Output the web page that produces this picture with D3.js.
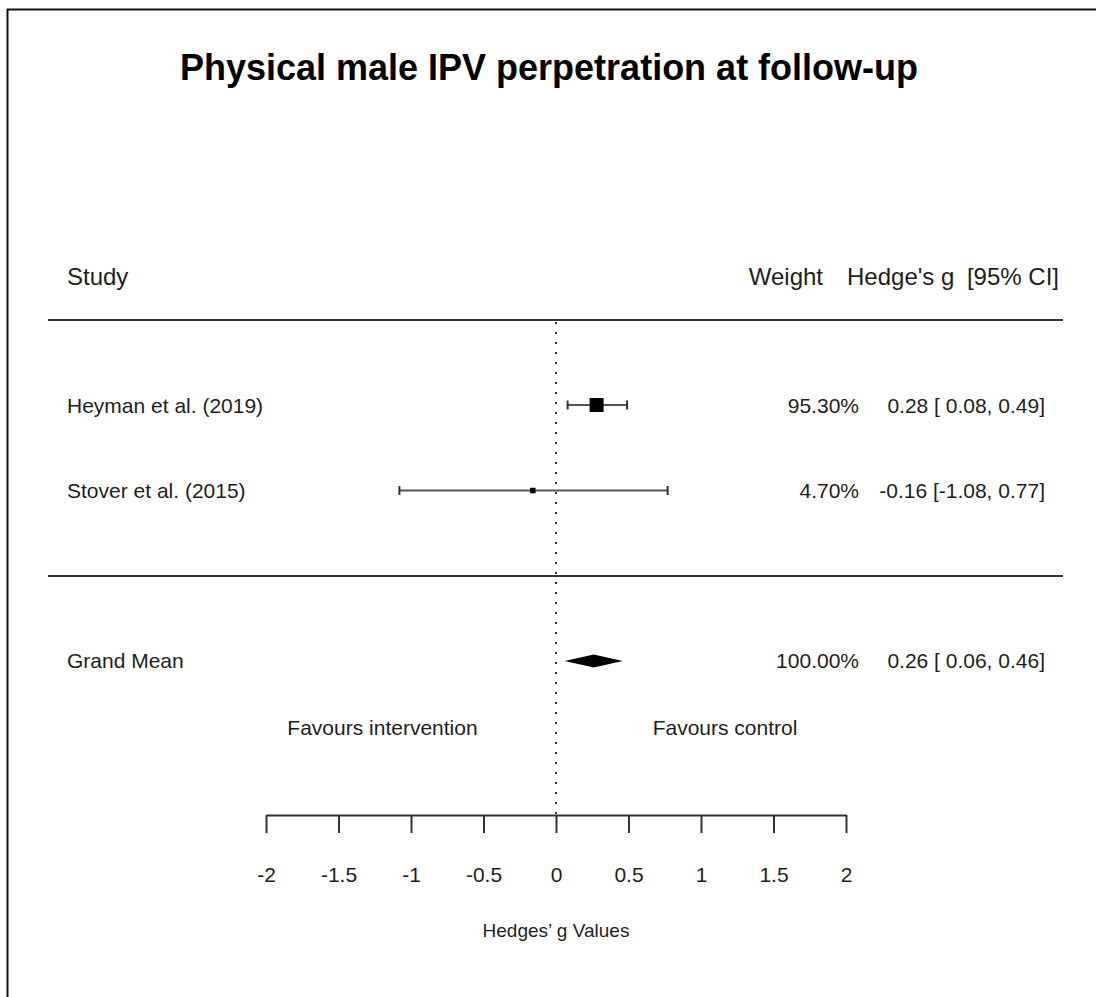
<!DOCTYPE html>
<html>
<head>
<meta charset="utf-8">
<script src="https://cdn.jsdelivr.net/npm/d3@7"></script>
<style>
  html, body { margin: 0; padding: 0; background: #fff; }
  svg { display: block; }
  text { font-family: "Liberation Sans", Arial, Helvetica, sans-serif; fill: #1e1e1e; }
</style>
</head>
<body>
<svg id="chart" width="1096" height="997"></svg>
<script>
// Forest plot data
const studies   = ["Heyman et al. (2019)", "Stover et al. (2015)"];
const estimates = [0.28, -0.16];
const lowerCI   = [0.08, -1.08];
const upperCI   = [0.49, 0.77];
const weights   = [95.30, 4.70];

const pooledLabel = "Grand Mean";
const pooledEst   = 0.26;
const pooledLower = 0.06;
const pooledUpper = 0.46;
const pooledWeight = 100.00;

const xTicks = [-2, -1.5, -1, -0.5, 0, 0.5, 1, 1.5, 2];
const xTickLabels = ["-2", "-1.5", "-1", "-0.5", "0", "0.5", "1", "1.5", "2"];

const titleText = "Physical male IPV perpetration at follow-up";
const axisTitle = "Hedges\u2019 g Values";
const favourLeft = "Favours intervention";
const favourRight = "Favours control";

const svg = d3.select("#chart");

// Frame
svg.append("rect")
  .attr("x", 7.5).attr("y", 9.5)
  .attr("width", 1200).attr("height", 1200)
  .attr("fill", "none").attr("stroke", "#111").attr("stroke-width", 2);

const x = d3.scaleLinear().domain([-2, 2]).range([266, 846]);
const rowY = d3.scalePoint().domain(studies).range([405, 490.5]);
const pooledY = 661;
const sizeScale = d3.scaleLinear().domain([4.7, 95.3]).range([5.5, 14]);

// Plain hyphen-minus for negative numbers
const locale = d3.formatLocale({ decimal: ".", thousands: ",", grouping: [3], currency: ["", ""], minus: "-" });
const fmt2 = locale.format(".2f");
const fmtCI = v => (v < 0 ? "" : " ") + fmt2(v);
const fmtRow = (e, l, u) => `${fmt2(e)} [${fmtCI(l)}, ${fmtCI(u)}]`;
const fmtW = w => fmt2(w) + "%";

// Title
svg.append("text")
  .attr("x", 549).attr("y", 80)
  .attr("text-anchor", "middle")
  .style("font-size", "36px").style("font-weight", "bold").style("fill", "#000")
  .text(titleText);

// Header
const header = svg.append("g").style("font-size", "24px");
header.append("text").attr("x", 67).attr("y", 285).text("Study");
header.append("text").attr("x", 823).attr("y", 285).attr("text-anchor", "end").text("Weight");
header.append("text").attr("x", 847).attr("y", 285).text("Hedge's g");
header.append("text").attr("x", 1059).attr("y", 285).attr("text-anchor", "end").text("[95% CI]");

// Separators
[320, 576].forEach(yy => {
  svg.append("line")
    .attr("x1", 48).attr("x2", 1063).attr("y1", yy).attr("y2", yy)
    .attr("stroke", "#333").attr("stroke-width", 2);
});

// Reference line at zero
svg.append("line")
  .attr("x1", x(0)).attr("x2", x(0)).attr("y1", 322).attr("y2", 815)
  .attr("stroke", "#333").attr("stroke-width", 2)
  .attr("stroke-dasharray", "2,8");

// Study rows
const rows = studies.map((s, i) => ({
  study: s, est: estimates[i], lo: lowerCI[i], hi: upperCI[i], w: weights[i]
}));

const g = svg.append("g");
rows.forEach(d => {
  const y = rowY(d.study);
  g.append("line")
    .attr("x1", x(d.lo)).attr("x2", x(d.hi)).attr("y1", y).attr("y2", y)
    .attr("stroke", "#555").attr("stroke-width", 2);
  [d.lo, d.hi].forEach(v => {
    g.append("line")
      .attr("x1", x(v)).attr("x2", x(v)).attr("y1", y - 4.5).attr("y2", y + 4.5)
      .attr("stroke", "#333").attr("stroke-width", 2);
  });
  const s = sizeScale(d.w);
  g.append("rect")
    .attr("x", x(d.est) - s / 2).attr("y", y - s / 2)
    .attr("width", s).attr("height", s)
    .attr("fill", "#000");

  const t = g.append("g").style("font-size", "21px");
  t.append("text").attr("x", 67).attr("y", y + 7.5).text(d.study);
  t.append("text").attr("x", 859).attr("y", y + 7.5).attr("text-anchor", "end").text(fmtW(d.w));
  t.append("text").attr("x", 1045).attr("y", y + 7.5).attr("text-anchor", "end")
    .text(fmtRow(d.est, d.lo, d.hi));
});

// Pooled estimate diamond
const dh = 6.5;
svg.append("path")
  .attr("d", `M${x(pooledLower)},${pooledY} L${x(pooledEst)},${pooledY - dh} L${x(pooledUpper)},${pooledY} L${x(pooledEst)},${pooledY + dh} Z`)
  .attr("fill", "#000");
const pt = svg.append("g").style("font-size", "21px");
pt.append("text").attr("x", 67).attr("y", pooledY + 7).text(pooledLabel);
pt.append("text").attr("x", 859).attr("y", pooledY + 7).attr("text-anchor", "end").text(fmtW(pooledWeight));
pt.append("text").attr("x", 1045).attr("y", pooledY + 7).attr("text-anchor", "end")
  .text(fmtRow(pooledEst, pooledLower, pooledUpper));

// Favours labels
const fav = svg.append("g").style("font-size", "21px");
fav.append("text").attr("x", 382.5).attr("y", 735).attr("text-anchor", "middle").text(favourLeft);
fav.append("text").attr("x", 725).attr("y", 735).attr("text-anchor", "middle").text(favourRight);

// X axis
const axis = d3.axisBottom(x)
  .tickValues(xTicks)
  .tickFormat((d, i) => xTickLabels[i])
  .tickSize(18)
  .tickSizeOuter(0)
  .tickPadding(34);
const ax = svg.append("g").attr("transform", "translate(0,815)").call(axis);
ax.select(".domain").attr("stroke", "#333").attr("stroke-width", 2);
ax.selectAll(".tick line").attr("stroke", "#333").attr("stroke-width", 2);
ax.selectAll(".tick text")
  .style("font-size", "21px")
  .style("font-family", "'Liberation Sans', Arial, Helvetica, sans-serif")
  .attr("fill", "#1e1e1e");

svg.append("text")
  .attr("x", x(0)).attr("y", 937)
  .attr("text-anchor", "middle")
  .style("font-size", "19px")
  .text(axisTitle);
</script>
</body>
</html>
